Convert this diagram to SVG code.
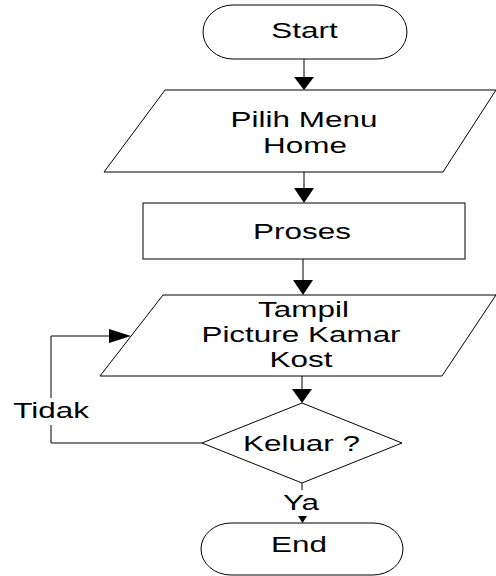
<svg xmlns="http://www.w3.org/2000/svg" width="496" height="576" viewBox="0 0 496 576">
<style>
.shape{fill:#fff;stroke:#000;stroke-width:1}
.line{fill:none;stroke:#000;stroke-width:1}
.head{fill:#000;stroke:none}
text{font-family:"Liberation Sans",Arial,sans-serif;font-size:22px;fill:#000;text-anchor:middle}
</style>
<rect width="496" height="576" fill="#fff"/>
<g id="connectors">
<line class="line" x1="304" y1="59" x2="304" y2="78"/>
<polygon class="head" points="294,77 314,77 304,90"/>
<line class="line" x1="304" y1="172" x2="304" y2="189"/>
<polygon class="head" points="294,188 314,188 304,203"/>
<line class="line" x1="303" y1="259" x2="303" y2="281"/>
<polygon class="head" points="293,280 313,280 303,295"/>
<line class="line" x1="302" y1="376" x2="302" y2="390"/>
<polygon class="head" points="292,389 312,389 302,403"/>
<polyline class="line" points="202,443 51,443 51,425"/>
<polyline class="line" points="51,398 51,336 110,336"/>
<polygon class="head" points="109,329 109,343 131,336"/>
<line class="line" x1="302" y1="483" x2="302" y2="490"/>
<polygon class="head" points="298,516 307,516 302.5,523"/>
<text transform="translate(51,418) scale(1.43,1)">Tidak</text>
<text transform="translate(301,510) scale(1.43,1)">Ya</text>
</g>
<g id="start">
<rect class="shape" x="203" y="5" width="204" height="54" rx="30" ry="27"/>
<text transform="translate(304.5,38) scale(1.43,1)">Start</text>
</g>
<g id="pilih-menu">
<polygon class="shape" points="165,90 496,90 443,172 104,172"/>
<text transform="translate(304,127) scale(1.43,1)">Pilih Menu</text>
<text transform="translate(305,153) scale(1.43,1)">Home</text>
</g>
<g id="proses">
<rect class="shape" x="143" y="203" width="322" height="56"/>
<text transform="translate(302,239) scale(1.43,1)">Proses</text>
</g>
<g id="tampil">
<polygon class="shape" points="163,295 496,295 442,376 100,376"/>
<text transform="translate(303.5,317) scale(1.43,1)">Tampil</text>
<text transform="translate(301,342) scale(1.43,1)">Picture Kamar</text>
<text transform="translate(301,367) scale(1.43,1)">Kost</text>
</g>
<g id="keluar">
<polygon class="shape" points="302,403 402,443 302,483 202,443"/>
<text transform="translate(301.5,451) scale(1.43,1)">Keluar ?</text>
</g>
<g id="end">
<rect class="shape" x="201" y="523" width="202" height="52" rx="30" ry="26"/>
<text transform="translate(299,552) scale(1.43,1)">End</text>
</g>
</svg>
